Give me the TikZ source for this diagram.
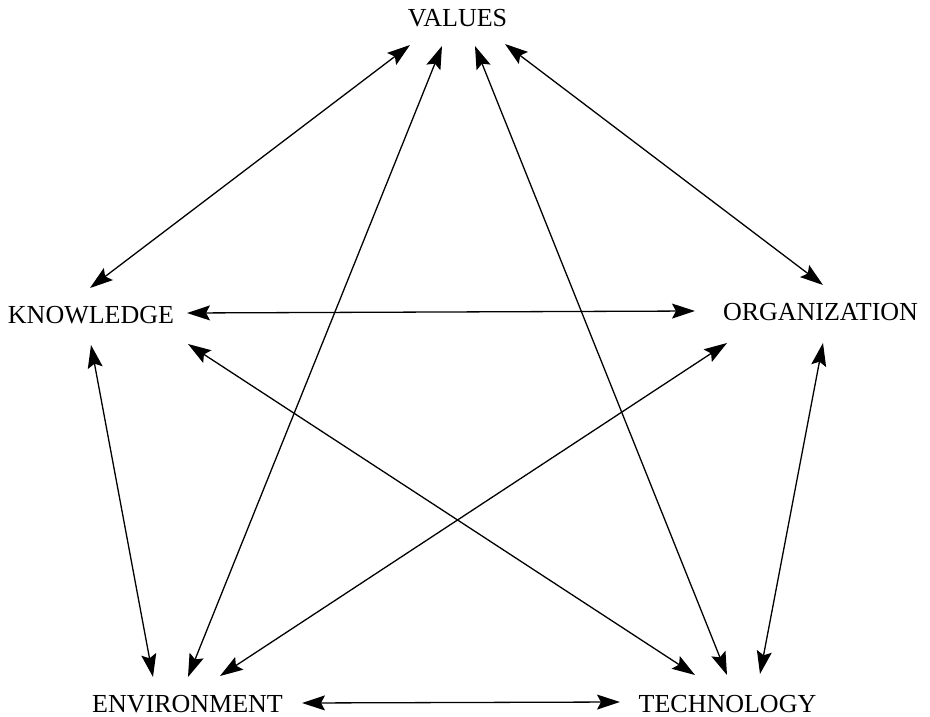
\documentclass[tikz,border=0pt]{standalone}
\usepackage{fontspec}
\setmainfont{Liberation Serif}
\usetikzlibrary{arrows.meta}
\begin{document}
\begin{tikzpicture}[x=1pt,y=-1pt,
  label/.style={anchor=base,inner sep=0pt,font=\fontsize{26}{30}\selectfont},
  biarrow/.style={line width=1.3pt,
    {Stealth[length=23pt,width=15pt,inset=4pt]}-{Stealth[length=23pt,width=15pt,inset=4pt]}}]
\useasboundingbox (0,0) rectangle (930,717);

% the five factors
\node[label] (v) at (457.5,27) {VALUES};
\node[label] (k) at (91,323) {KNOWLEDGE};
\node[label] (o) at (820.5,320) {ORGANIZATION};
\node[label] (e) at (187.5,712) {ENVIRONMENT};
\node[label] (t) at (727.5,712) {TECHNOLOGY};

% arrow ends around each factor
\coordinate (vk) at (410,45);  \coordinate (kv) at (90,288);
\coordinate (ve) at (442,46);  \coordinate (ev) at (188,677);
\coordinate (vt) at (475,46);  \coordinate (tv) at (727,675);
\coordinate (vo) at (505,44);  \coordinate (ov) at (823,285);
\coordinate (ko) at (187,313); \coordinate (ok) at (695,311);
\coordinate (ke) at (91,345);  \coordinate (ek) at (153,677);
\coordinate (kt) at (188,344); \coordinate (tk) at (695,675);
\coordinate (oe) at (727,343); \coordinate (eo) at (220,676);
\coordinate (ot) at (823,343); \coordinate (to) at (760,674);
\coordinate (et) at (302,703); \coordinate (te) at (620,702);

% mutual influences
\draw[biarrow] (vk) -- (kv);
\draw[biarrow] (ve) -- (ev);
\draw[biarrow] (vt) -- (tv);
\draw[biarrow] (vo) -- (ov);
\draw[biarrow] (ko) -- (ok);
\draw[biarrow] (ke) -- (ek);
\draw[biarrow] (kt) -- (tk);
\draw[biarrow] (oe) -- (eo);
\draw[biarrow] (ot) -- (to);
\draw[biarrow] (et) -- (te);
\end{tikzpicture}
\end{document}
